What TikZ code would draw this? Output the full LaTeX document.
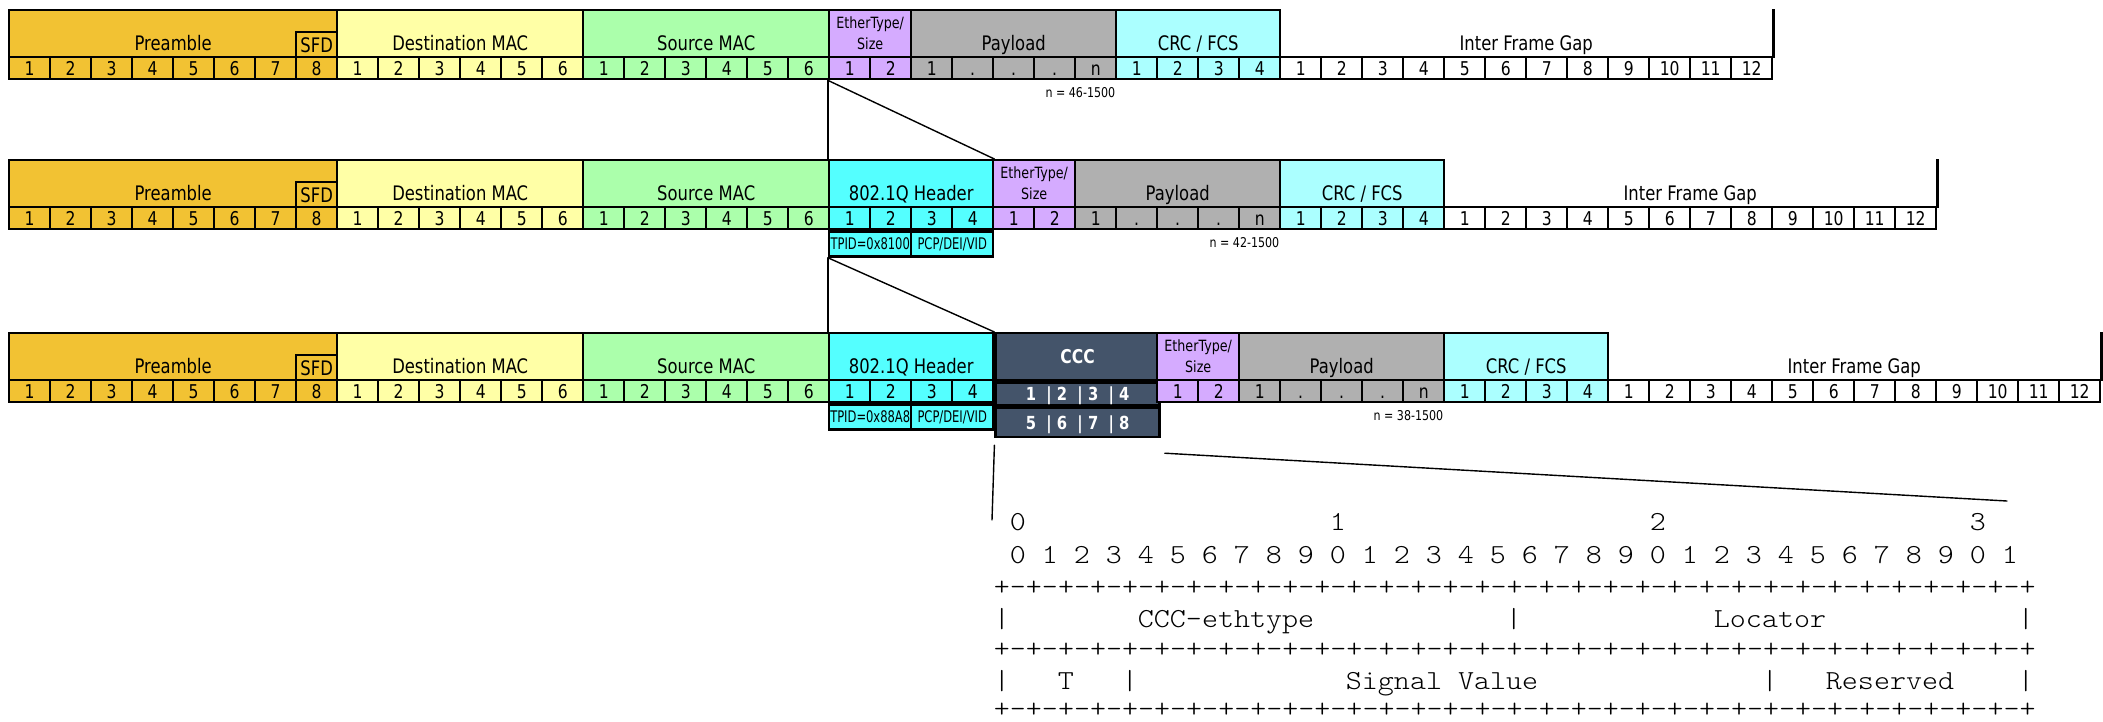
\documentclass[tikz,border=0pt]{standalone}
\usepackage{fontspec}
\setmainfont{DejaVu Sans}[FakeStretch=0.82]
\newfontfamily\narrowfont{DejaVu Sans}[FakeStretch=0.72]
\newfontfamily\bitfont{lmmonolt10-regular.otf}[FakeStretch=1.11]
\usetikzlibrary{calc}
\usepackage{tkz-euclide}
\definecolor{PreClr}{rgb}{0.95,0.76,0.2}
\definecolor{DstClr}{rgb}{1,1,0.65}
\definecolor{SrcClr}{rgb}{0.67,1,0.67}
\definecolor{TypeClr}{rgb}{0.835,0.67,1}
\definecolor{LoadClr}{rgb}{0.69,0.69,0.69}
\definecolor{CrcClr}{rgb}{0.67,1,1}
\definecolor{TagClr}{rgb}{0.33,1,1}
\definecolor{CccClr}{rgb}{0.267,0.329,0.416}

\tikzset{
  hdr/.style={draw,line width=2.4pt,anchor=north west,inner sep=0pt,minimum height=47pt},
  lbl/.style={anchor=base,yshift=-16.5pt,inner sep=0pt,font=\fontsize{20}{24}\selectfont},
  typlbl/.style={align=center,inner sep=0pt,font=\fontsize{15.5}{21}\selectfont},
  cell/.style={draw,line width=2.4pt,anchor=north west,inner sep=0pt,minimum width=41pt,
    minimum height=22pt,text height=14pt,text depth=0pt,font=\fontsize{19}{19}\selectfont},
  sfd/.style={draw,line width=2.4pt,fill=PreClr,anchor=south east,inner sep=0pt,minimum width=41pt,
    minimum height=25pt,text height=14.6pt,text depth=0pt,font=\fontsize{20}{20}\selectfont},
  sub/.style={draw,line width=2.4pt,anchor=north west,inner sep=0pt,fill=TagClr,minimum width=82pt,
    minimum height=25pt,text height=11.7pt,text depth=0pt,font=\narrowfont\fontsize{16}{16}\selectfont},
  ccc/.style={draw,line width=2.4pt,anchor=north west,inner sep=0pt,fill=CccClr,text=white,
    minimum width=164pt,text height=13pt,text depth=0pt,font=\bfseries\fontsize{18}{18}\selectfont},
  note/.style={anchor=north east,inner sep=0pt,text height=10pt,text depth=0pt,
    font=\fontsize{13.5}{13.5}\selectfont},
  bit/.style={anchor=base west,inner sep=0pt,font=\bitfont\fontsize{27.5}{27.5}\selectfont}
}

\newcommand{\field}[8][lbl]{%
  \node[hdr,fill=#6,minimum width=#4*41pt] (#2) at ({8+41*#3},#5) {};
  \node[#1] (#2-lbl) at (#2.center) {#7};
  \foreach \t [count=\k] in {#8}
    \node[cell,fill=#6] (#2-\k) at ({8+41*(#3+\k-1)},#5+47) {\t};}

\newcommand{\gap}[3]{%
  \node[hdr,draw=none,minimum width=492pt] (#1) at ({8+41*#2},#3) {};
  \draw[line width=2.4pt] (#1.north east) -- (#1.south east);
  \node[lbl] (#1-lbl) at (#1.center) {Inter Frame Gap};
  \foreach \k in {1,...,12}
    \node[cell,fill=white] (#1-\k) at ({8+41*(#2+\k-1)},#3+47) {\k};}

\begin{document}
\begin{tikzpicture}[x=1pt,y=-1pt]
\useasboundingbox (0,0) rectangle (2103,721);
\tkzSetUpLine[line width=1.4pt,color=black]

\field{r1pre}{0}{8}{9}{PreClr}{Preamble}{1,...,8}
\node[sfd] (r1sfd) at (r1pre.south east) {SFD};
\field{r1dst}{8}{6}{9}{DstClr}{Destination MAC}{1,...,6}
\field{r1src}{14}{6}{9}{SrcClr}{Source MAC}{1,...,6}
\field[typlbl]{r1typ}{20}{2}{9}{TypeClr}{EtherType/\\Size}{1,2}
\field{r1load}{22}{5}{9}{LoadClr}{Payload}{1,{.},{.},{.},n}
\field{r1crc}{27}{4}{9}{CrcClr}{CRC / FCS}{1,...,4}
\gap{r1ifg}{31}{9}
\node[note] (r1n) at ([shift={(-2pt,-7pt)}]r1load-5.south east) {n = 46-1500};

\field{r2pre}{0}{8}{159}{PreClr}{Preamble}{1,...,8}
\node[sfd] (r2sfd) at (r2pre.south east) {SFD};
\field{r2dst}{8}{6}{159}{DstClr}{Destination MAC}{1,...,6}
\field{r2src}{14}{6}{159}{SrcClr}{Source MAC}{1,...,6}
\field{r2tag}{20}{4}{159}{TagClr}{802.1Q Header}{1,...,4}
\node[sub] (r2tpid) at (r2tag-1.south west) {TPID=0x8100};
\node[sub] (r2pcp) at (r2tag-3.south west) {PCP/DEI/VID};
\field[typlbl]{r2typ}{24}{2}{159}{TypeClr}{EtherType/\\Size}{1,2}
\field{r2load}{26}{5}{159}{LoadClr}{Payload}{1,{.},{.},{.},n}
\field{r2crc}{31}{4}{159}{CrcClr}{CRC / FCS}{1,...,4}
\gap{r2ifg}{35}{159}
\node[note] (r2n) at ([shift={(-2pt,-7pt)}]r2load-5.south east) {n = 42-1500};

\field{r3pre}{0}{8}{332}{PreClr}{Preamble}{1,...,8}
\node[sfd] (r3sfd) at (r3pre.south east) {SFD};
\field{r3dst}{8}{6}{332}{DstClr}{Destination MAC}{1,...,6}
\field{r3src}{14}{6}{332}{SrcClr}{Source MAC}{1,...,6}
\field{r3tag}{20}{4}{332}{TagClr}{802.1Q Header}{1,...,4}
\node[sub] (r3tpid) at (r3tag-1.south west) {TPID=0x88A8};
\node[sub] (r3pcp) at (r3tag-3.south west) {PCP/DEI/VID};
\node[hdr,fill=CccClr,minimum width=164pt] (r3ccc) at (r3tag.north east) {};
\node[text=white,font=\bfseries\fontsize{19}{19}\selectfont] (r3ccc-lbl) at (r3ccc.center) {CCC};
\node[ccc,minimum height=23pt] (r3ccc-a) at (r3ccc.south west) {1~~| 2~~| 3~~| 4};
\node[ccc,minimum height=29pt] (r3ccc-b) at (r3ccc-a.south west) {5~~| 6~~| 7~~| 8};
\field[typlbl]{r3typ}{28}{2}{332}{TypeClr}{EtherType/\\Size}{1,2}
\field{r3load}{30}{5}{332}{LoadClr}{Payload}{1,{.},{.},{.},n}
\field{r3crc}{35}{4}{332}{CrcClr}{CRC / FCS}{1,...,4}
\gap{r3ifg}{39}{332}
\node[note] (r3n) at ([shift={(-2pt,-7pt)}]r3load-5.south east) {n = 38-1500};

\coordinate (A) at (r1typ-1.south west);
\coordinate (B) at (r2tag.north west);
\coordinate (C) at (r2tag.north east);
\coordinate (D) at (r2tpid.south west);
\coordinate (E) at (r3tag.north west);
\coordinate (F) at (r3tag.north east);
\coordinate (G) at ([yshift=-7pt]r3ccc-b.south west);
\coordinate (H) at (992,520);
\coordinate (I) at ([shift={(4pt,-15pt)}]r3ccc-b.south east);
\coordinate (J) at (2007,501);
\tkzDrawSegments(A,B A,C D,E D,F G,H I,J)

\foreach \d [count=\i from 0] in {0,1,2,3}
  \node[bit] (ten\i) at ({993.7+16*(20*\i+1)},530) {\d};
\foreach \i in {0,...,31}{
  \pgfmathtruncatemacro\d{mod(\i,10)}
  \node[bit] (one\i) at ({993.7+16*(2*\i+1)},563) {\d};}
\foreach \y [count=\i] in {595,657,717}
  \node[bit] (rule\i) at (993.7,\y) {+-+-+-+-+-+-+-+-+-+-+-+-+-+-+-+-+-+-+-+-+-+-+-+-+-+-+-+-+-+-+-+-+};
\foreach \c in {0,32,64}
  \node[bit] (bara\c) at ({993.7+16*\c},627) {|};
\node[bit] (cccfld) at ({993.7+16*9},627) {CCC-ethtype};
\node[bit] (locfld) at ({993.7+16*45},627) {Locator};
\foreach \c in {0,8,48,64}
  \node[bit] (barb\c) at ({993.7+16*\c},689) {|};
\node[bit] (tfld) at ({993.7+16*4},689) {T};
\node[bit] (sigfld) at ({993.7+16*22},689) {Signal Value};
\node[bit] (resfld) at ({993.7+16*52},689) {Reserved};

\end{tikzpicture}
\end{document}
